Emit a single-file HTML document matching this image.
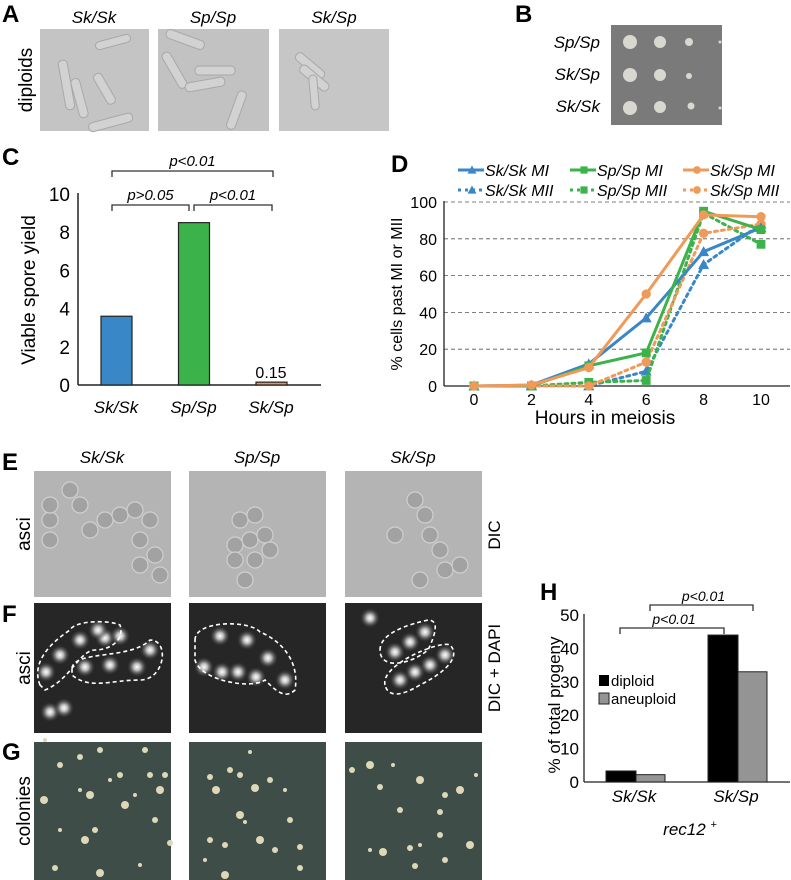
<!DOCTYPE html>
<html><head><meta charset="utf-8"><style>
html,body{margin:0;padding:0;background:#fff;}
svg{display:block;font-family:"Liberation Sans",sans-serif;}
.pl{font-weight:bold;font-size:24px;}
.it{font-style:italic;}
</style></head><body>
<svg id="fig" width="791" height="880" viewBox="0 0 791 880" xmlns="http://www.w3.org/2000/svg">
<defs>
<radialGradient id="glow"><stop offset="0" stop-color="#fff"/><stop offset="0.35" stop-color="#bbb"/><stop offset="1" stop-color="#3a3a3a" stop-opacity="0"/></radialGradient>
</defs>
<!-- Panel A -->
<g>
<text class="pl" x="2" y="22">A</text>
<text class="it" x="94" y="23" font-size="17" text-anchor="middle">Sk/Sk</text>
<text class="it" x="213" y="23" font-size="17" text-anchor="middle">Sp/Sp</text>
<text class="it" x="334" y="23" font-size="17" text-anchor="middle">Sk/Sp</text>
<text x="0" y="0" font-size="19" text-anchor="middle" transform="translate(32,80) rotate(-90)">diploids</text>
<rect x="40" y="29" width="109" height="102" fill="#c4c4c4"/>
<rect x="158" y="29" width="111" height="102" fill="#c2c2c2"/>
<rect x="279" y="29" width="110" height="102" fill="#c6c6c6"/>
<g fill="#d2d2d2" stroke="#a8a8a8" stroke-width="1">
<rect x="62" y="60" width="9" height="50" rx="4" transform="rotate(-10 66 85)"/>
<rect x="75" y="78" width="9" height="40" rx="4" transform="rotate(-15 80 98)"/>
<rect x="100" y="72" width="9" height="34" rx="4" transform="rotate(-30 104 89)"/>
<rect x="88" y="118" width="45" height="9" rx="4" transform="rotate(-15 110 122)"/>
<rect x="95" y="38" width="36" height="8" rx="4" transform="rotate(-15 113 42)"/>
<rect x="170" y="50" width="9" height="40" rx="4" transform="rotate(-30 175 70)"/>
<rect x="195" y="66" width="40" height="9" rx="4"/>
<rect x="185" y="80" width="40" height="9" rx="4" transform="rotate(-10 205 84)"/>
<rect x="232" y="90" width="9" height="40" rx="4" transform="rotate(20 236 110)"/>
<rect x="165" y="35" width="40" height="9" rx="4" transform="rotate(20 185 40)"/>
<rect x="305" y="48" width="9" height="35" rx="4" transform="rotate(-50 310 65)"/>
<rect x="310" y="60" width="9" height="35" rx="4" transform="rotate(-50 315 78)"/>
<rect x="310" y="75" width="8" height="35" rx="4" transform="rotate(-5 314 92)"/>
</g>
</g>
<!-- Panel B -->
<g>
<text class="pl" x="515" y="22">B</text>
<rect x="611" y="25" width="111" height="100" fill="#7a7a7a"/>
<text class="it" x="600" y="48" font-size="17" text-anchor="end">Sp/Sp</text>
<text class="it" x="600" y="80" font-size="17" text-anchor="end">Sk/Sp</text>
<text class="it" x="600" y="112" font-size="17" text-anchor="end">Sk/Sk</text>
<g fill="#d8d8d0">
<circle cx="630" cy="42" r="7"/><circle cx="660" cy="42" r="6"/><circle cx="689" cy="42" r="4"/><circle cx="722" cy="42" r="1.5" transform="translate(-2,0)"/>
<circle cx="630" cy="75" r="7"/><circle cx="660" cy="75" r="6"/><circle cx="689" cy="76" r="3"/>
<circle cx="630" cy="108" r="7"/><circle cx="660" cy="107" r="6"/><circle cx="691" cy="106" r="3.5"/><circle cx="720" cy="108" r="1.5"/>
</g>
</g>
<!-- Panel C -->
<g id="panelC">
<text class="pl" x="2" y="165">C</text>
<text x="0" y="0" font-size="19" text-anchor="middle" transform="translate(35,290) rotate(-90)">Viable spore yield</text>
</g>
<!-- Panel D -->
<g id="panelD">
<text class="pl" x="391" y="172">D</text>
<text x="0" y="0" font-size="16" text-anchor="middle" transform="translate(402,294) rotate(-90)">% cells past MI or MII</text>
<text x="605" y="424" font-size="19" text-anchor="middle">Hours in meiosis</text>
</g>
<!-- Panel E/F/G -->
<g>
<text class="pl" x="2" y="470">E</text>
<text class="pl" x="2" y="622">F</text>
<text class="pl" x="2" y="760">G</text>
<text class="it" x="102" y="463" font-size="17" text-anchor="middle">Sk/Sk</text>
<text class="it" x="257" y="463" font-size="17" text-anchor="middle">Sp/Sp</text>
<text class="it" x="413" y="463" font-size="17" text-anchor="middle">Sk/Sp</text>
<text x="0" y="0" font-size="19" text-anchor="middle" transform="translate(30,534) rotate(-90)">asci</text>
<text x="0" y="0" font-size="19" text-anchor="middle" transform="translate(30,668) rotate(-90)">asci</text>
<text x="0" y="0" font-size="19" text-anchor="middle" transform="translate(30,811) rotate(-90)">colonies</text>
<text x="0" y="0" font-size="17" text-anchor="middle" transform="translate(500,535) rotate(-90)">DIC</text>
<text x="0" y="0" font-size="17" text-anchor="middle" transform="translate(500,668) rotate(-90)">DIC + DAPI</text>
<g id="efg"></g>
</g>
<!-- Panel H -->
<g id="panelH">
<text class="pl" x="540" y="600">H</text>
<text x="0" y="0" font-size="17" text-anchor="middle" transform="translate(560,705) rotate(-90)">% of total progeny</text>
<text class="it" x="690" y="835" font-size="17" text-anchor="middle">rec12 <tspan font-size="11" dy="-7">+</tspan></text>
</g>
</svg>
<script>
// ---- Panel C data
const cCategories = ["Sk/Sk","Sp/Sp","Sk/Sp"];
const cValues = [3.6, 8.5, 0.15];
const cTicks = [0,2,4,6,8,10];
// ---- Panel D data
const dHours = [0,2,4,6,8,10];
const dSkSkMI = [0,0.5,12,37,73,86];
const dSkSkMII = [0,0,0,8,66,88];
const dSpSpMI = [0,0,11,18,95,85];
const dSpSpMII = [0,0,2,3,94,77];
const dSkSpMI = [0,0.5,10,50,93,92];
const dSkSpMII = [0,0,0,13,83,88];
const dTicks = [0,20,40,60,80,100];
// ---- Panel H data
const hCategories = ["Sk/Sk","Sk/Sp"];
const hDiploid = [3.3, 44];
const hAneuploid = [2.2, 33];
const hTicks = [0,10,20,30,40,50];

const NS="http://www.w3.org/2000/svg";
function mk(parent,tag,attrs,text){const e=document.createElementNS(NS,tag);for(const k in attrs)e.setAttribute(k,attrs[k]);if(text!==undefined)e.textContent=text;parent.appendChild(e);return e;}

// Panel C
(function(){
  const g=document.getElementById('panelC');
  const y=v=>385-(v/10)*191;
  const xc=i=>116+i*77.5;
  mk(g,'line',{x1:78,y1:193,x2:78,y2:385,stroke:'#222','stroke-width':1.5});
  mk(g,'line',{x1:78,y1:385,x2:321,y2:385,stroke:'#222','stroke-width':1.5});
  cTicks.forEach(t=>{const e=mk(g,'text',{x:70,y:y(t)+7,'font-size':19,'text-anchor':'end'},String(t));
    
    });
  const colors=['#3a87c8','#3bb34a','#e8935c'];
  cCategories.forEach((c,i)=>{
    const r=mk(g,'rect',{x:xc(i)-15,y:y(cValues[i]),width:31,height:385-y(cValues[i]),fill:colors[i],stroke:'#222','stroke-width':1.2});
    
    
    const t=mk(g,'text',{x:xc(i),y:413,'font-size':17,'font-style':'italic','text-anchor':'middle'},c);
    
    
  });
  const v=mk(g,'text',{x:xc(2),y:y(cValues[2])-4,'font-size':16,'text-anchor':'middle'},String(cValues[2]));
  
  
  const br=(x1,x2,yy,label,name)=>{const p=mk(g,'path',{d:`M${x1},${yy+6}V${yy}H${x2}V${yy+6}`,fill:'none',stroke:'#333','stroke-width':1.3});
    
    
    const t=mk(g,'text',{x:(x1+x2)/2,y:yy-5,'font-size':15,'font-style':'italic','text-anchor':'middle'},label);
    
    };
  br(112,273,171,'p<0.01','c-bracket-sksk-sksp');
  br(112,189,205,'p>0.05','c-bracket-sksk-spsp');
  br(194,272,205,'p<0.01','c-bracket-spsp-sksp');
})();

// Panel D
(function(){
  const g=document.getElementById('panelD');
  const x=h=>474+h*28.7;
  const y=v=>386-v*1.84;
  dTicks.forEach(t=>{
    if(t>0){const l=mk(g,'line',{x1:444,y1:y(t),x2:790,y2:y(t),stroke:'#555','stroke-width':0.8,'stroke-dasharray':'4,3'});
      
      }
    const e=mk(g,'text',{x:437,y:y(t)+6,'font-size':16,'text-anchor':'end'},String(t));
    
    
  });
  mk(g,'line',{x1:444,y1:201,x2:444,y2:386,stroke:'#222','stroke-width':1.3});
  mk(g,'line',{x1:444,y1:386,x2:790,y2:386,stroke:'#222','stroke-width':1.3});
  dHours.forEach(h=>{const e=mk(g,'text',{x:x(h),y:405,'font-size':16,'text-anchor':'middle'},String(h));
    
    });
  const series=[
    {n:'sksk-mii',d:dSkSkMII,c:'#3a87c8',dash:true,m:'tri'},
    {n:'spsp-mii',d:dSpSpMII,c:'#3bb34a',dash:true,m:'sq'},
    {n:'sksp-mii',d:dSkSpMII,c:'#ef9a58',dash:true,m:'ci'},
    {n:'sksk-mi',d:dSkSkMI,c:'#3a87c8',dash:false,m:'tri'},
    {n:'spsp-mi',d:dSpSpMI,c:'#3bb34a',dash:false,m:'sq'},
    {n:'sksp-mi',d:dSkSpMI,c:'#ef9a58',dash:false,m:'ci'}];
  const marker=(p,m,cx,cy,c,s)=>{
    if(m==='tri')return mk(p,'path',{d:`M${cx},${cy-s}L${cx+s},${cy+s*0.8}L${cx-s},${cy+s*0.8}Z`,fill:c});
    if(m==='sq')return mk(p,'rect',{x:cx-s*0.8,y:cy-s*0.8,width:s*1.6,height:s*1.6,fill:c});
    return mk(p,'circle',{cx:cx,cy:cy,r:s*0.85,fill:c});};
  series.forEach(s=>{
    const pts=s.d.map((v,i)=>x(dHours[i])+','+y(v)).join(' ');
    const l=mk(g,'polyline',{points:pts,fill:'none',stroke:s.c,'stroke-width':3,'stroke-dasharray':s.dash?'3,4':'none','stroke-linecap':'round'});
    
    
    s.d.forEach((v,i)=>{const mm=marker(g,s.m,x(dHours[i]),y(v),s.c,5.5);
      
      });
  });
  // legend
  const leg=[['Sk/Sk MI','#3a87c8',0,'tri',458,170],['Sp/Sp MI','#3bb34a',0,'sq',570,170],['Sk/Sp MI','#ef9a58',0,'ci',683,170],
             ['Sk/Sk MII','#3a87c8',1,'tri',458,190],['Sp/Sp MII','#3bb34a',1,'sq',570,190],['Sk/Sp MII','#ef9a58',1,'ci',683,190]];
  leg.forEach(L=>{
    const lg=mk(g,'g',{});
    
    
    mk(lg,'line',{x1:L[4],y1:L[5],x2:L[4]+26,y2:L[5],stroke:L[1],'stroke-width':3,'stroke-dasharray':L[2]?'3,4':'none'});
    marker(lg,L[3],L[4]+14,L[5],L[1],4.5);
    mk(lg,'text',{x:L[4]+27,y:L[5]+6,'font-size':16,'font-style':'italic'},L[0]);
  });
})();

// Panels E/F/G images
(function(){
  const g=document.getElementById('efg');
  const xs=[34,189,345], w=137;
  const names=['sksk','spsp','sksp'];
  xs.forEach((x0,i)=>{
    const e=mk(g,'rect',{x:x0,y:471,width:w,height:126,fill:'#b4b4b4'});
    
    
    const f=mk(g,'rect',{x:x0,y:603,width:w,height:130,fill:'#262626'});
    
    
    const gg=mk(g,'rect',{x:x0,y:742,width:w,height:138,fill:'#3e4d48'});
    
    
  });
  // E cells (decorative)
  const eCells=[[50,520],[50,540],[50,505],[90,530],[105,520],[120,515],[135,510],[150,520],[140,540],[155,555],[140,565],[160,575],[80,505],[70,490],
    [240,520],[255,515],[235,545],[250,540],[265,535],[235,560],[255,560],[245,580],[270,550],
    [395,535],[415,500],[425,515],[430,535],[440,550],[420,580],[445,570],[460,565]];
  eCells.forEach(c=>mk(g,'circle',{cx:c[0],cy:c[1],r:8,fill:'#a2a2a2',stroke:'#d0d0d0','stroke-width':1.2}));
  // F spots
  const fSpots=[[80,640],[105,638],[60,655],[46,672],[120,636],[85,667],[110,665],[137,667],[150,650],[98,630],[50,712],[64,708],
    [220,636],[247,640],[204,667],[222,672],[238,672],[256,677],[268,658],[285,680],
    [395,652],[410,642],[425,632],[400,680],[415,672],[430,665],[445,655],[370,618]];
  fSpots.forEach(c=>mk(g,'circle',{cx:c[0],cy:c[1],r:10,fill:'url(#glow)'}));
  const dash={fill:'none',stroke:'#fff','stroke-width':1.6,'stroke-dasharray':'4,3'};
  mk(g,'path',Object.assign({d:'M40,685 C30,660 55,640 70,630 C75,620 110,620 120,625 C125,640 110,650 95,650 C80,650 70,680 45,690 Z'},dash));
  mk(g,'path',Object.assign({d:'M72,668 C75,650 130,660 150,640 C170,640 165,680 140,680 C110,680 90,690 72,675 Z'},dash));
  mk(g,'path',Object.assign({d:'M195,640 C195,620 250,620 260,632 C280,640 300,660 295,690 C285,700 275,690 265,680 C250,690 200,680 195,660 Z'},dash));
  mk(g,'path',Object.assign({d:'M380,650 C380,630 420,622 428,620 C435,620 440,625 428,650 C410,665 380,670 380,650 Z'},dash));
  mk(g,'path',Object.assign({d:'M385,685 C380,665 440,640 450,645 C460,655 450,670 420,685 C400,697 388,697 385,685 Z'},dash));
  // G colonies
  const gCols=[[44,800],[60,765],[80,757],[80,790],[90,795],[100,750],[110,780],[120,775],[125,805],[135,795],[145,750],[150,775],[160,790],[155,820],[170,843],[140,865],[85,840],[95,830],[60,830],[55,868],[100,873],[45,740],[165,775],
    [210,777],[216,790],[230,770],[240,775],[250,752],[255,788],[270,780],[285,790],[290,820],[240,815],[245,822],[210,840],[225,845],[260,840],[275,850],[300,847],[205,860],[225,875],[300,868],[305,890],
    [352,770],[370,765],[393,765],[380,787],[400,810],[420,780],[440,812],[445,795],[370,850],[383,852],[410,848],[420,845],[440,835],[460,790],[476,775],[415,866],[445,860],[470,845]];
  gCols.forEach((c,i)=>mk(g,'circle',{cx:c[0],cy:c[1],r:(i%4===0?4:i%3===0?2:3),fill:'#ddd8b8'}));
})();

// Panel H
(function(){
  const g=document.getElementById('panelH');
  const y=v=>782-v*3.34;
  const xc=i=>636+i*102;
  hTicks.forEach(t=>{const e=mk(g,'text',{x:579,y:y(t)+6,'font-size':17,'text-anchor':'end'},String(t));
    
    });
  mk(g,'line',{x1:584,y1:614,x2:584,y2:782,stroke:'#222','stroke-width':1.3});
  mk(g,'line',{x1:584,y1:782,x2:790,y2:782,stroke:'#222','stroke-width':1.3});
  hCategories.forEach((c,i)=>{
    const a=mk(g,'rect',{x:xc(i)-30,y:y(hDiploid[i]),width:30,height:782-y(hDiploid[i]),fill:'#000',stroke:'#222'});
    
    
    const b=mk(g,'rect',{x:xc(i),y:y(hAneuploid[i]),width:29,height:782-y(hAneuploid[i]),fill:'#949494',stroke:'#222'});
    
    
    const t=mk(g,'text',{x:xc(i)-2,y:802,'font-size':17,'font-style':'italic','text-anchor':'middle'},c);
    
    
  });
  const br=(x1,x2,yy,name)=>{const p=mk(g,'path',{d:`M${x1},${yy+6}V${yy}H${x2}V${yy+6}`,fill:'none',stroke:'#333','stroke-width':1.3});
    
    
    const t=mk(g,'text',{x:(x1+x2)/2+2,y:yy-4,'font-size':14,'font-style':'italic','text-anchor':'middle'},'p<0.01');
    
    };
  br(620,724,628,'h-bracket-diploid');
  br(650,753,605,'h-bracket-aneuploid');
  const l1=mk(g,'g',{});
  
  
  mk(l1,'rect',{x:599,y:675,width:10,height:11,fill:'#000'});
  mk(l1,'text',{x:611,y:686,'font-size':15},'diploid');
  const l2=mk(g,'g',{});
  
  
  mk(l2,'rect',{x:599,y:693,width:10,height:11,fill:'#949494',stroke:'#222'});
  mk(l2,'text',{x:611,y:704,'font-size':15},'aneuploid');
})();
</script>
</body></html>
